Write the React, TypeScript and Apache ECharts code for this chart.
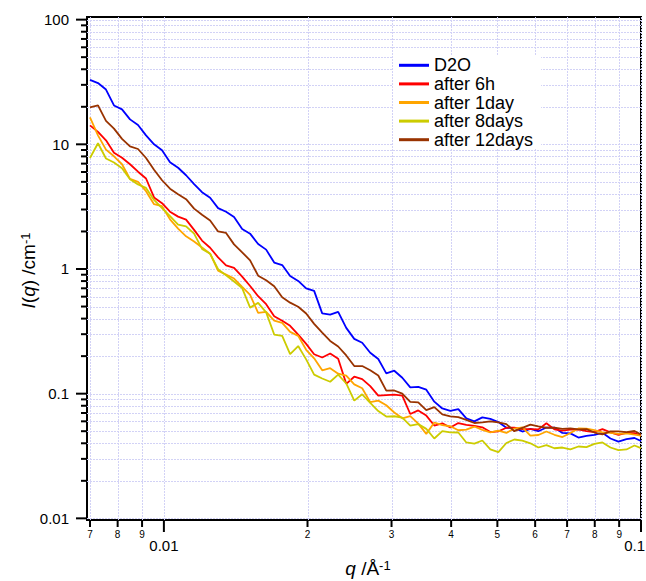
import React, { useEffect, useRef } from 'react';
import * as echarts from 'echarts';

const FONT = '"Liberation Sans", Arial, Helvetica, sans-serif';

// q values (Å^-1)
const q = [
  0.007, 0.007276, 0.007562, 0.00786, 0.00817, 0.008492, 0.008826, 0.009174, 0.009536, 0.009911,
  0.0103, 0.01071, 0.01113, 0.01157, 0.01202, 0.0125, 0.01299, 0.0135, 0.01403, 0.01459,
  0.01516, 0.01576, 0.01638, 0.01703, 0.0177, 0.01839, 0.01912, 0.01987, 0.02065, 0.02147,
  0.02231, 0.02319, 0.02411, 0.02506, 0.02604, 0.02707, 0.02814, 0.02925, 0.0304, 0.0316,
  0.03284, 0.03413, 0.03548, 0.03688, 0.03833, 0.03984, 0.04141, 0.04304, 0.04474, 0.0465,
  0.04833, 0.05024, 0.05222, 0.05427, 0.05641, 0.05863, 0.06094, 0.06335, 0.06584, 0.06844,
  0.07113, 0.07393, 0.07685, 0.07988, 0.08302, 0.08629, 0.08969, 0.09323, 0.0969, 0.1,
];

const d2o = [
  32.9, 31.0, 27.5, 20.5, 19.05, 15.85, 14.3, 11.8, 10.0, 8.95,
  7.18, 6.49, 5.65, 4.79, 4.13, 3.73, 3.08, 2.88, 2.61, 2.09,
  1.92, 1.585, 1.43, 1.127, 1.076, 0.879, 0.802, 0.698, 0.667, 0.441,
  0.431, 0.453, 0.337, 0.275, 0.256, 0.213, 0.1895, 0.1456, 0.1528, 0.1343,
  0.1123, 0.1133, 0.1076, 0.0863, 0.0761, 0.0729, 0.0752, 0.0634, 0.06, 0.0645,
  0.0627, 0.0592, 0.0532, 0.0532, 0.0497, 0.0522, 0.05, 0.0535, 0.0535, 0.0484,
  0.048, 0.0445, 0.0459, 0.0468, 0.0485, 0.0437, 0.0413, 0.0432, 0.0441, 0.0417,
];

const after6h = [
  14.19, 12.59, 10.76, 8.55, 7.8, 6.92, 6.03, 5.32, 3.75, 3.37,
  2.88, 2.63, 2.49, 2.06, 1.69, 1.48, 1.24, 1.07, 1.02, 0.868,
  0.731, 0.605, 0.522, 0.418, 0.384, 0.35, 0.298, 0.251, 0.207, 0.195,
  0.21, 0.1905, 0.12, 0.1368, 0.1309, 0.1148, 0.0964, 0.0973, 0.0982, 0.0964,
  0.0687, 0.0734, 0.0667, 0.0555, 0.0579, 0.0535, 0.0581, 0.0562, 0.0551, 0.0537,
  0.0492, 0.0499, 0.0533, 0.0534, 0.052, 0.052, 0.0517, 0.0579, 0.0517, 0.0506,
  0.0515, 0.0517, 0.05, 0.0491, 0.052, 0.049, 0.0467, 0.0484, 0.0482, 0.0461,
];

const after1day = [
  16.44, 11.8, 9.07, 8.02, 6.92, 5.28, 4.99, 4.21, 3.31, 3.19,
  2.5, 2.11, 1.83, 1.66, 1.49, 1.326, 0.969, 0.902, 0.838, 0.718,
  0.619, 0.445, 0.453, 0.385, 0.37, 0.313, 0.291, 0.225, 0.192, 0.154,
  0.16, 0.1445, 0.1398, 0.1187, 0.1105, 0.0855, 0.0879, 0.0808, 0.0706, 0.0634,
  0.0661, 0.0575, 0.0476, 0.0587, 0.0559, 0.0548, 0.0509, 0.0515, 0.0545, 0.0513,
  0.049, 0.0506, 0.0485, 0.0525, 0.0537, 0.0461, 0.0466, 0.0497, 0.0468, 0.0449,
  0.0484, 0.0526, 0.0525, 0.0511, 0.049, 0.0484, 0.0476, 0.048, 0.0469, 0.0461,
];

const after8days = [
  7.77, 10.2, 7.69, 7.14, 6.43, 5.25, 4.76, 4.47, 3.58, 3.08,
  2.65, 2.27, 2.2, 1.92, 1.45, 1.326, 0.995, 0.889, 0.794, 0.702,
  0.49, 0.535, 0.449, 0.298, 0.291, 0.208, 0.241, 0.1884, 0.142, 0.1323,
  0.1247, 0.142, 0.1207, 0.0879, 0.0988, 0.0844, 0.0726, 0.0655, 0.0659, 0.0643,
  0.0555, 0.057, 0.0522, 0.0437, 0.0501, 0.049, 0.0488, 0.0406, 0.0398, 0.0421,
  0.0358, 0.034, 0.0402, 0.0429, 0.042, 0.04, 0.037, 0.0387, 0.0365, 0.037,
  0.0358, 0.0377, 0.0373, 0.0396, 0.0406, 0.037, 0.0352, 0.0357, 0.0384, 0.0366,
];

const after12days = [
  19.8, 20.5, 15.4, 13.36, 11.05, 9.64, 9.17, 7.77, 6.25, 5.15,
  4.41, 3.98, 3.63, 3.05, 2.72, 2.45, 2.0, 1.945, 1.576, 1.36,
  1.174, 0.884, 0.812, 0.728, 0.594, 0.537, 0.498, 0.44, 0.363, 0.309,
  0.265, 0.239, 0.2025, 0.1665, 0.1665, 0.1539, 0.1398, 0.1057, 0.106, 0.1,
  0.086, 0.0853, 0.0738, 0.0781, 0.0682, 0.0658, 0.0649, 0.0616, 0.0582, 0.0589,
  0.06, 0.0589, 0.057, 0.05, 0.0531, 0.0564, 0.0547, 0.0533, 0.0534, 0.0522,
  0.0526, 0.0517, 0.052, 0.0488, 0.0472, 0.0499, 0.0498, 0.0492, 0.0502, 0.047,
];

const seriesNames = ['D2O', 'after 6h', 'after 1day', 'after 8days', 'after 12days'];
const seriesValues = [d2o, after6h, after1day, after8days, after12days];
const seriesColors = ['#0000ff', '#ff0000', '#ffa500', '#cccc00', '#993300'];

const xMajorTicks = [0.01, 0.1];
const xMajorLabels = ['0.01', '0.1'];
const xMinorTicks = [0.007, 0.008, 0.009, 0.02, 0.03, 0.04, 0.05, 0.06, 0.07, 0.08, 0.09];
const xMinorLabels = ['7', '8', '9', '2', '3', '4', '5', '6', '7', '8', '9'];

const yMajorTicks = [0.01, 0.1, 1, 10, 100];
const yMajorLabels = ['0.01', '0.1', '1', '10', '100'];
const yMinorTicks = [
  0.02, 0.03, 0.04, 0.05, 0.06, 0.07, 0.08, 0.09,
  0.2, 0.3, 0.4, 0.5, 0.6, 0.7, 0.8, 0.9,
  2, 3, 4, 5, 6, 7, 8, 9,
  20, 30, 40, 50, 60, 70, 80, 90,
];

const X_MIN = 0.0069;
const X_MAX = 0.1;
const Y_MIN = 0.0097;
const Y_MAX = 105;

function buildGraphic(chart: any) {
  const X = (v: number) => chart.convertToPixel({ gridIndex: 0 }, [v, 1])[0];
  const Y = (v: number) => chart.convertToPixel({ gridIndex: 0 }, [0.01, v])[1];
  const left = X(X_MIN);
  const right = X(X_MAX);
  const top = Y(Y_MAX);
  const bottom = Y(Y_MIN);
  const els: any[] = [];
  const gridStyle = { stroke: '#d2d2f6', lineWidth: 1, lineDash: [2, 1] };
  const crisp = (v: number) => Math.round(v) + 0.5;

  [...xMinorTicks, ...xMajorTicks].forEach((v) => {
    const x = crisp(X(v));
    els.push({ type: 'line', silent: true, z: 1, shape: { x1: x, y1: top, x2: x, y2: bottom }, style: gridStyle });
  });
  [...yMinorTicks, ...yMajorTicks].forEach((v) => {
    const y = crisp(Y(v));
    els.push({ type: 'line', silent: true, z: 1, shape: { x1: left, y1: y, x2: right, y2: y }, style: gridStyle });
  });

  const tickStyle = { stroke: '#000', lineWidth: 2 };
  xMajorTicks.forEach((v, i) => {
    const x = X(v);
    const atEdge = x > 646 - 12;
    els.push({ type: 'line', silent: true, z: 5, shape: { x1: x, y1: bottom, x2: x, y2: bottom + 12 }, style: tickStyle });
    els.push({
      type: 'text', silent: true, z: 5, x: atEdge ? 645 : x, y: bottom + 18,
      style: {
        text: xMajorLabels[i], fontSize: 15, fontFamily: FONT, fill: '#000',
        align: atEdge ? 'right' : 'center', verticalAlign: 'top',
      },
    });
  });
  xMinorTicks.forEach((v, i) => {
    const x = X(v);
    els.push({ type: 'line', silent: true, z: 5, shape: { x1: x, y1: bottom, x2: x, y2: bottom + 7 }, style: tickStyle });
    els.push({
      type: 'text', silent: true, z: 5, x, y: bottom + 9,
      style: { text: xMinorLabels[i], fontSize: 10, fontFamily: FONT, fill: '#000', align: 'center', verticalAlign: 'top' },
    });
  });
  yMajorTicks.forEach((v, i) => {
    const y = Y(v);
    els.push({ type: 'line', silent: true, z: 5, shape: { x1: left - 11, y1: y, x2: left, y2: y }, style: tickStyle });
    els.push({
      type: 'text', silent: true, z: 5, x: left - 18, y,
      style: { text: yMajorLabels[i], fontSize: 15, fontFamily: FONT, fill: '#000', align: 'right', verticalAlign: 'middle' },
    });
  });
  yMinorTicks.forEach((v) => {
    const y = Y(v);
    els.push({ type: 'line', silent: true, z: 5, shape: { x1: left - 6, y1: y, x2: left, y2: y }, style: tickStyle });
  });

  const rich = {
    n: { fontSize: 19, fontFamily: FONT, fill: '#000', verticalAlign: 'middle' },
    i: { fontSize: 19, fontFamily: FONT, fontStyle: 'italic', fill: '#000', verticalAlign: 'middle' },
    s: { fontSize: 13, fontFamily: FONT, fill: '#000', verticalAlign: 'top' },
  };
  els.push({
    type: 'text', silent: true, z: 5, x: (left + right) / 2 + 4, y: bottom + 48,
    style: { text: '{i|q}{n| /Å}{s|-1}', rich, fontSize: 19, fontFamily: FONT, align: 'center', verticalAlign: 'middle' },
  });
  els.push({
    type: 'text', silent: true, z: 5, x: 28, y: (top + bottom) / 2 + 2, rotation: Math.PI / 2,
    style: { text: '{i|I}{n|(}{i|q}{n|) /cm}{s|-1}', rich, fontSize: 19, fontFamily: FONT, align: 'center', verticalAlign: 'middle' },
  });
  return els;
}

export default function App() {
  const ref = useRef<HTMLDivElement>(null);
  useEffect(() => {
    const el = ref.current;
    if (!el) return;
    const chart = echarts.init(el, null, { renderer: 'svg' });
    const option: any = {
      animation: false,
      backgroundColor: '#ffffff',
      grid: {
        left: 87, right: 5, top: 17, bottom: 61,
        show: true, borderColor: '#000', borderWidth: 2, backgroundColor: 'transparent',
      },
      xAxis: {
        type: 'log', logBase: 10, min: X_MIN, max: X_MAX,
        axisLine: { show: false }, axisTick: { show: false }, axisLabel: { show: false }, splitLine: { show: false },
      },
      yAxis: {
        type: 'log', logBase: 10, min: Y_MIN, max: Y_MAX,
        axisLine: { show: false }, axisTick: { show: false }, axisLabel: { show: false }, splitLine: { show: false },
      },
      legend: {
        orient: 'vertical', left: 393, top: 56, icon: 'rect', itemWidth: 30, itemHeight: 3, itemGap: 0,
        padding: [0, 8, 0, 6], backgroundColor: '#ffffff',
        textStyle: { color: '#000', fontSize: 18, fontFamily: FONT, lineHeight: 18.6 },
        data: seriesNames,
      },
      series: seriesNames.map((name, i) => ({
        type: 'line', name,
        data: q.map((x, j) => [x, seriesValues[i][j]]),
        showSymbol: false, symbol: 'none', clip: true,
        lineStyle: { width: 1.8, color: seriesColors[i] },
        itemStyle: { color: seriesColors[i] },
      })),
    };
    chart.setOption(option);
    chart.setOption({ graphic: buildGraphic(chart) });
    return () => chart.dispose();
  }, []);
  return <div ref={ref} style={{ position: 'fixed', left: 0, top: 0, width: 646, height: 581 }} />;
}
